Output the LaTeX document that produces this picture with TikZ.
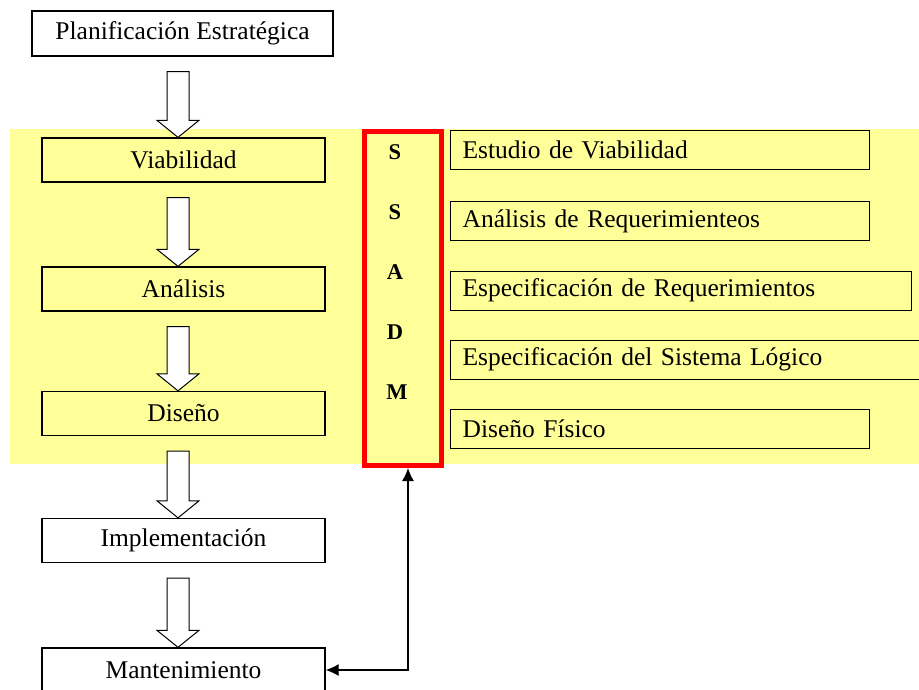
\documentclass[tikz,border=0pt]{standalone}
\usepackage{fontspec}
\setmainfont{Liberation Serif}
\usetikzlibrary{calc,arrows.meta}
\definecolor{band}{RGB}{255,255,153}
\definecolor{ssred}{RGB}{255,0,0}
\newcommand\blockarrow[2]{%
  \path (178,0 |- #1.south) coordinate (ba) (178,0 |- #2.north) coordinate (bb);
  \draw[barrow] ($(ba)+(-11,15)$) -- ($(ba)+(11,15)$) -- ($(bb)+(11,-17)$) -- ($(bb)+(21,-17)$) -- (bb)
    -- ($(bb)+(-21,-17)$) -- ($(bb)+(-11,-17)$) -- cycle;}
\begin{document}
\begin{tikzpicture}[x=1pt,y=-1pt,
  txt/.style={font=\fontsize{25.5}{30}\selectfont},
  box/.style={draw,line width=1.3pt,minimum width=283pt,minimum height=44pt,inner sep=0pt,txt},
  rbox/.style={draw,line width=1.3pt,fill=band,anchor=north west,minimum height=39pt,inner ysep=0pt,inner xsep=12pt,align=left,txt},
  letter/.style={font=\fontsize{22.5}{26}\selectfont\bfseries},
  barrow/.style={draw,line width=1pt,fill=white,line join=miter},
  link/.style={line width=1.3pt,{Latex[length=13pt,width=12pt]}-{Latex[length=13pt,width=12pt]}}]
\useasboundingbox (0,0) rectangle (919,690);
\fill[band] (10,129) rectangle (919,464);
% left column
\node[box,minimum width=301pt,minimum height=45pt] (plan) at (182.5,33.5) {Planificación Estratégica};
\node[box] (viab) at (183.5,160) {Viabilidad};
\node[box] (anal) at (183.5,289) {Análisis};
\node[box] (dise) at (183.5,413.5) {Diseño};
\node[box,fill=white] (impl) at (183.5,540.5) {Implementación};
\node[box,fill=white] (mant) at (183.5,670) {Mantenimiento};
\blockarrow{plan}{viab}
\blockarrow{viab}{anal}
\blockarrow{anal}{dise}
\blockarrow{dise}{impl}
\blockarrow{impl}{mant}
% SSADM
\node[draw=ssred,line width=5pt,minimum width=77pt,minimum height=334pt,inner sep=0pt] (ssadm) at (403,298.5) {};
\node[letter] (l1) at (395,152) {S};
\node[letter] (l2) at (395,212) {S};
\node[letter] (l3) at (395,272) {A};
\node[letter] (l4) at (395,332) {D};
\node[letter] (l5) at (397,392) {M};
% right boxes
\node[rbox,text width=395pt] (r1) at (450,130) {Estudio de Viabilidad};
\node[rbox,text width=395pt] (r2) at (450,201) {Análisis de Requerimienteos};
\node[rbox,text width=437pt] (r3) at (450,270.5) {Especificación de Requerimientos};
\node[rbox,text width=455pt] (r4) at (450,339.5) {Especificación del Sistema Lógico};
\node[rbox,text width=395pt] (r5) at (450,408.5) {Diseño Físico};
% link
\coordinate (sb) at ($(ssadm.south)+(5,0)$);
\draw[link] (mant.east) -| (sb);
\end{tikzpicture}
\end{document}
